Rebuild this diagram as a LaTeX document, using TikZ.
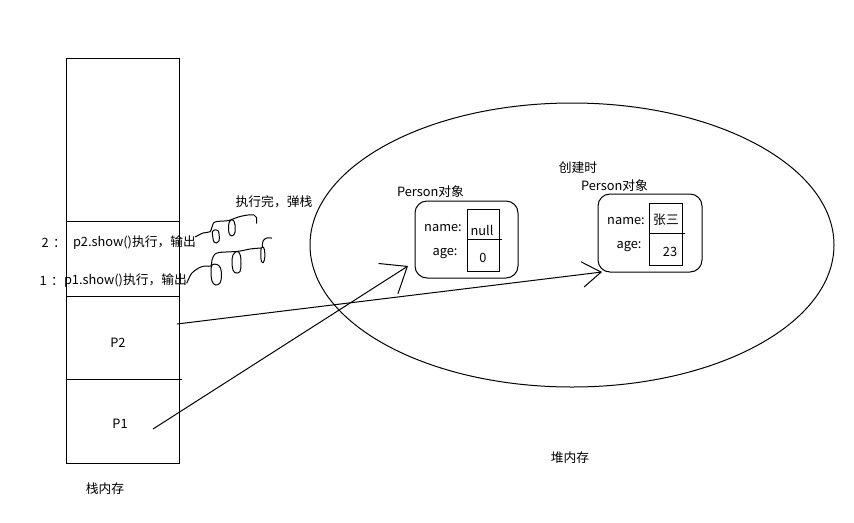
\documentclass[tikz,border=0pt]{standalone}
\usepackage{fontspec}
\setmainfont{Noto Sans CJK SC}
\usetikzlibrary{arrows.meta}
\begin{document}
\begin{tikzpicture}[x=0.75pt,y=-0.75pt,line width=0.75pt,
  lbl/.style={inner sep=0pt,font=\fontsize{9.6}{11}\selectfont},
  objbox/.style={draw,rounded corners=9pt},
  scribble/.style={line width=0.75pt}]
\useasboundingbox (0,0) rectangle (854,522);
% stack
\draw (66,58) rectangle (179,463);
\draw (66,221) -- (179,221);
\draw (66,296) -- (179,296);
\draw (66,379) -- (182,379);
\node[lbl,anchor=west] (n2) at (41,243) {2\hspace{0.35em}：};
\node[lbl] (s2) at (134.5,243) {p2.show()执行，输出};
\node[lbl,anchor=west] (n1) at (39,281) {1\hspace{0.35em}：};
\node[lbl] (s1) at (125.5,281) {p1.show()执行，输出};
\node[lbl] (p2) at (118,343) {P2};
\node[lbl] (p1) at (120,424) {P1};
\node[lbl] (stk) at (105,489) {栈内存};
\node[lbl] (pop) at (274,202) {执行完，弹栈};
% heap
\draw (572,245) ellipse [x radius=196.5pt, y radius=106.5pt];
\node[lbl] (heap) at (570,458) {堆内存};
\node[lbl] (create) at (578,168) {创建时};
% object 1
\node[lbl] (obj1t) at (430.5,192) {Person对象};
\draw[objbox] (415,201) rectangle (518,278);
\draw (467,209) rectangle (499,271);
\draw (467,239) -- (502,239);
\node[lbl] (name1) at (443,228) {name:};
\node[lbl] (null1) at (482,230) {null};
\node[lbl] (age1) at (445,254) {age:};
\node[lbl] (zero1) at (483,258) {0};
% object 2
\node[lbl] (obj2t) at (614.5,186) {Person对象};
\draw[objbox] (598,194) rectangle (702,272);
\draw (649,203) rectangle (682,265);
\draw (649,233) -- (685,233);
\node[lbl] (name2) at (626,221) {name:};
\node[lbl] (zs) at (666,220) {张三};
\node[lbl] (age2) at (629,247) {age:};
\node[lbl] (v23) at (670,252) {23};
% arrows
\coordinate (a2s) at (177,324);
\coordinate (a2e) at (602,272);
\coordinate (a1s) at (153,429);
\coordinate (a1e) at (408,266);
\draw[-{Straight Barb[length=14pt,width=19pt]}] (a2s) -- (a2e);
\draw[-{Straight Barb[length=17pt,width=27pt]}] (a1s) -- (a1e);
% upper scribble
\draw[scribble] plot[smooth,tension=0.5] coordinates {(195,237) (203,233) (210,231.8) (212,227) (213.5,223) (217,221.5) (224,221) (229,220.5) (233,219) (240,216.5) (248,215) (254,215) (256.5,217.5) (256.7,223.5)};
\draw[scribble] plot[smooth cycle,tension=0.6] coordinates {(212.5,231.5) (212.8,237) (214,242) (216.5,243) (219,241) (219.2,235) (218,230.5) (215.5,229.8)};
\draw[scribble] plot[smooth cycle,tension=0.6] coordinates {(231.5,219.5) (229,223) (228.5,230) (230,235) (233,235.5) (235,232) (235,225) (233.5,220.5)};
% lower scribble
\draw[scribble] plot[smooth,tension=0.5] coordinates {(186.7,283.3) (191.7,273.3) (200,267.3) (206,266) (211,266) (212,260) (214.5,254.5) (219,252.5) (226,252) (236,251.5) (243,250.5) (250,249) (257,248.3) (261,248)};
\draw[scribble] plot[smooth cycle,tension=0.6] coordinates {(212,265) (211,272) (212,281) (215.5,285) (220,283) (221.5,276) (220.5,268) (217,264.5)};
\draw[scribble] plot[smooth cycle,tension=0.6] coordinates {(236.5,251.5) (233,255) (232,262) (233,270) (236,273) (240,271.5) (241,264) (240.5,256) (238.5,252)};
\draw[scribble] plot[smooth cycle,tension=0.6] coordinates {(261.2,248) (260.8,255) (261.5,261.5) (263.5,262.3) (264.8,257) (264.5,250) (263,247)};
\draw[scribble] plot[smooth,tension=0.6] coordinates {(262.3,247) (263.3,240.5) (267.5,237.8) (272,238.2)};
\end{tikzpicture}
\end{document}
